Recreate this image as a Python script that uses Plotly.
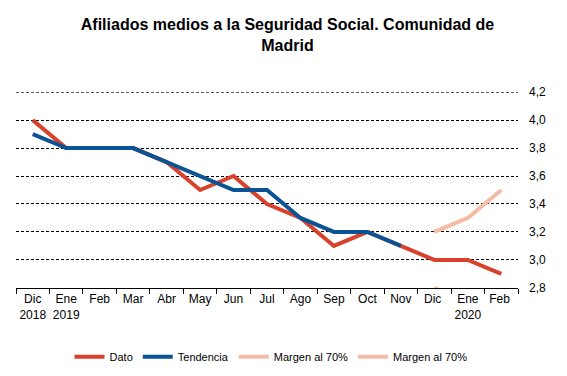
import plotly.graph_objects as go

categories = ["Dic<br>2018", "Ene<br>2019", "Feb", "Mar", "Abr", "May", "Jun", "Jul",
              "Ago", "Sep", "Oct", "Nov", "Dic ", "Ene<br>2020", "Feb "]
dato = [4.0, 3.8, 3.8, 3.8, 3.7, 3.5, 3.6, 3.4, 3.3, 3.1, 3.2, 3.1, 3.0, 3.0, 2.9]
tendencia = [3.9, 3.8, 3.8, 3.8, 3.7, 3.6, 3.5, 3.5, 3.3, 3.2, 3.2, 3.1, None, None, None]
margen_sup = [None] * 12 + [3.2, 3.3, 3.5]
margen_inf = [None] * 12 + [2.8, 2.7, 2.5]
y_ticks = [2.8, 3.0, 3.2, 3.4, 3.6, 3.8, 4.0, 4.2]
y_labels = ["2,8", "3,0", "3,2", "3,4", "3,6", "3,8", "4,0", "4,2"]

RED = "#D8412C"
BLUE = "#0B5394"
PINK = "#F4BCA6"

fig = go.Figure()
fig.add_trace(go.Scatter(x=categories, y=dato, name="Dato", mode="lines",
                         line=dict(color=RED, width=4)))
fig.add_trace(go.Scatter(x=categories, y=tendencia, name="Tendencia", mode="lines",
                         line=dict(color=BLUE, width=4)))
fig.add_trace(go.Scatter(x=categories, y=margen_sup, name="Margen al 70%", mode="lines",
                         line=dict(color=PINK, width=4)))
fig.add_trace(go.Scatter(x=categories, y=margen_inf, name="Margen al 70%", mode="lines",
                         line=dict(color=PINK, width=4)))

# top gridline (plotly omits gridlines lying on the plot edge)
fig.add_hline(y=y_ticks[-1], line=dict(color="black", width=1, dash="3px,2px"), layer="below")

fig.update_layout(
    width=559, height=368,
    margin=dict(l=8, r=49, t=84, b=88, autoexpand=False),
    paper_bgcolor="white", plot_bgcolor="white",
    font=dict(family="Liberation Sans, Arial, sans-serif", size=12, color="black"),
    title=dict(text="<b>Afiliados medios a la Seguridad Social. Comunidad de<br>Madrid</b>",
               x=0.5, xanchor="center", y=0.94, yanchor="middle",
               font=dict(size=16, color="black")),
    showlegend=True,
    legend=dict(orientation="h", x=0.508, xanchor="center", yref="container",
                y=0.052, yanchor="middle",
                font=dict(size=11), itemwidth=30, tracegroupgap=0),
    xaxis=dict(type="category", range=[-0.5, 14.5], tickson="boundaries",
               ticks="outside", ticklen=5, tickcolor="black", showline=True,
               linecolor="black", linewidth=1, showgrid=False, tickangle=0,
               automargin=False, tickfont=dict(size=12)),
    yaxis=dict(side="right", range=[2.799, 4.201], tickvals=y_ticks, ticktext=y_labels,
               showgrid=True, gridcolor="black", gridwidth=1, griddash="3px,2px",
               zeroline=False, ticks="", showline=False, tickfont=dict(size=12),
               automargin=False, ticklabelstandoff=10),
)

fig.write_html("out.html")
